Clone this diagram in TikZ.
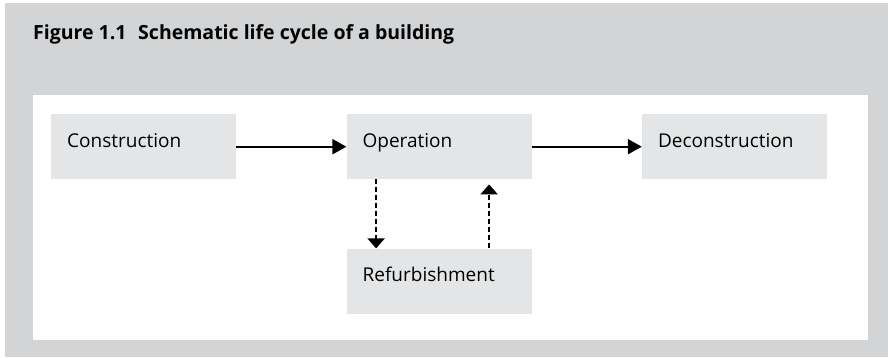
\documentclass[tikz,border=0pt]{standalone}
\usepackage{fontspec}
\setmainfont{Open Sans}
\usepackage{tikz}
\usetikzlibrary{arrows.meta,positioning}

\definecolor{framegray}{RGB}{211,212,214}
\definecolor{boxgray}{RGB}{228,229,230}

\begin{document}
\begin{tikzpicture}[
  x=1pt, y=-1pt,
  stage/.style={fill=boxgray, inner xsep=16pt, inner ysep=0pt, text width=153pt,
    text height=33pt, text depth=32pt, align=left, font=\fontsize{19}{23}\selectfont},
  flow/.style={-{Triangle[length=14pt,width=15pt]}, line width=2pt},
  back/.style={-{Triangle[length=10pt,width=17pt]}, line width=2pt, dash pattern=on 5pt off 3pt},
  node distance=69pt and 110pt
]

% --- Frame ---
\useasboundingbox (0,0) rectangle (888,357);
\fill[framegray] (5,3) rectangle (888,357);
\fill[white] (33,95) rectangle (868,340);

\node[anchor=base west, inner sep=0pt, font=\fontsize{19.5}{24}\selectfont\bfseries] (title) at (33,39)
  {Figure 1.1\hspace{0.6em}Schematic life cycle of a building};

% --- Stages ---
\node[stage, anchor=north west] (constr) at (51,114) {Construction};
\node[stage] (oper)   [right=of constr] {Operation};
\node[stage] (decon)  [right=of oper]   {Deconstruction};
\node[stage] (refurb) [below=of oper]   {Refurbishment};

% --- Arrows ---
\draw[flow] (constr) -- (oper);
\draw[flow] (oper) -- (decon);

\draw[back] ([xshift=-63pt]oper.south) -- ([xshift=-63pt]refurb.north);
\draw[back, shorten >=5pt] ([xshift=50pt]refurb.north) -- ([xshift=50pt]oper.south);

\end{tikzpicture}
\end{document}
